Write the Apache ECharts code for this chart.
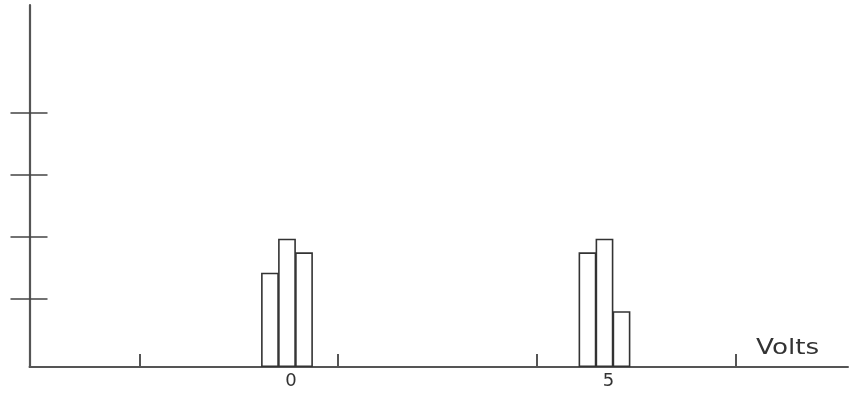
<!DOCTYPE html>
<html>
<head>
<meta charset="utf-8">
<script src="https://cdn.jsdelivr.net/npm/echarts@6/dist/echarts.min.js"></script>
<style>html,body{margin:0;padding:0;background:#fff}#c{width:850px;height:398px}</style>
</head>
<body>
<div id="c"></div>
<script>
// Data (schematic histogram of voltage readings)
const binVolts = [-0.268, 0, 0.268, 4.732, 5, 5.268];
const binCounts = [1.52, 2.07, 1.85, 1.85, 2.07, 0.9];
const xTickValues = [-2.323, 0.803, 3.937, 7.071];
const xLabelValues = [0, 5];
const yTickValues = [1.105, 2.105, 3.105, 4.105];
const axisName = 'Volts';

const chart = echarts.init(document.getElementById('c'));
const axisColor = '#555';
chart.setOption({
  animation: false,
  grid: { left: 29.5, right: 2, top: 5, bottom: 31 },
  xAxis: {
    type: 'value', min: -4.055, max: 8.835,
    axisLine: { show: true, onZero: false, lineStyle: { color: axisColor, width: 2 } },
    axisTick: { show: true, inside: true, length: 13, customValues: xTickValues, lineStyle: { color: axisColor, width: 2 } },
    axisLabel: { show: true, customValues: xLabelValues, margin: 5, padding: [0,0,0,8], fontFamily: 'DejaVu Sans', fontSize: 18, color: '#333' },
    splitLine: { show: false }
  },
  yAxis: [{
    type: 'value', min: 0, max: 5.839,
    axisLine: { show: true, onZero: false, lineStyle: { color: axisColor, width: 2.2 } },
    axisTick: { show: true, inside: false, length: 19, customValues: yTickValues, lineStyle: { color: '#444', width: 1.5 } },
    axisLabel: { show: false },
    splitLine: { show: false }
  }, {
    type: 'value', min: 0, max: 5.839, position: 'left',
    axisLine: { show: false, onZero: false },
    axisTick: { show: true, inside: true, length: 18, customValues: yTickValues, lineStyle: { color: '#444', width: 1.5 } },
    axisLabel: { show: false },
    splitLine: { show: false }
  }],
  series: [{
    type: 'bar',
    barWidth: 17.8,
    data: binVolts.map((v, i) => [v, binCounts[i]]),
    itemStyle: { color: '#fff', borderColor: '#333', borderWidth: 1.6 },
    z: 1
  }],
  graphic: [{
    type: 'text', left: 756, top: 338, scaleX: 1.25,
    style: { text: axisName, fontFamily: 'DejaVu Sans', fontSize: 21, fill: '#333' }
  }]
});
</script>
</body>
</html>
